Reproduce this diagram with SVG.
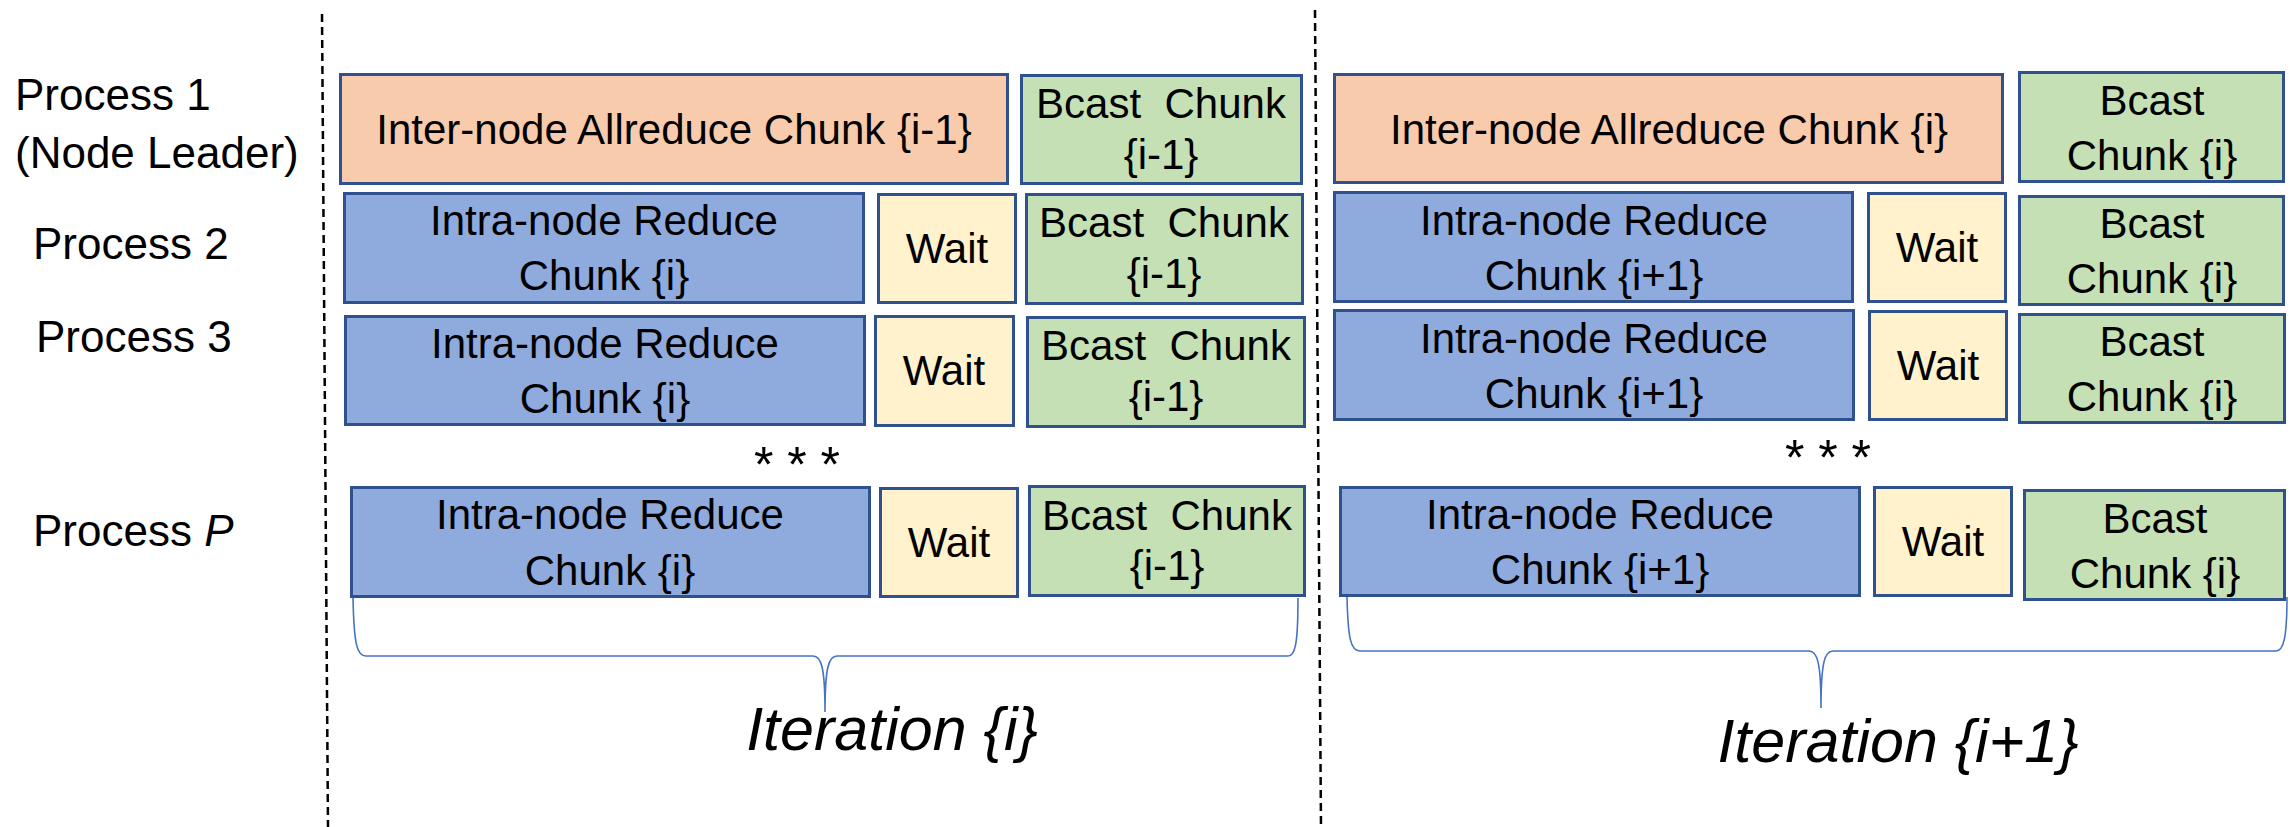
<svg xmlns="http://www.w3.org/2000/svg" width="2290" height="827" viewBox="0 0 2290 827">
<style>
  .box{stroke:#2F528F;stroke-width:3}
  .or{fill:#F8CBAD}
  .bl{fill:#8FAADC}
  .wt{fill:#FFF2CC}
  .gr{fill:#C5E0B4}
  text{font-family:"Liberation Sans",Arial,sans-serif;font-size:42px;fill:#000}
  .lbl{font-size:44px}
  .c{text-anchor:middle}
  .it{font-style:italic}
  .big{font-size:61px}
  .dots{font-size:50px}
  .sep{stroke:#000;stroke-width:2.5;stroke-dasharray:8 5;fill:none}
  .brace{stroke:#4472C4;stroke-width:1.6;fill:none}
</style>
<rect width="2290" height="827" fill="#fff"/>

<g id="labels">
  <text class="lbl" x="15" y="110">Process 1</text>
  <text class="lbl" x="15" y="168">(Node Leader)</text>
  <text class="lbl" x="33" y="259">Process 2</text>
  <text class="lbl" x="36" y="352">Process 3</text>
  <text class="lbl" x="33" y="546">Process <tspan class="it">P</tspan></text>
</g>

<g id="connectors">
  <line class="sep" x1="322" y1="14" x2="328" y2="827"/>
  <line class="sep" x1="1315" y1="10" x2="1321" y2="827"/>
  <path class="brace" d="M353,598 C354,645 357,656 366,656 L813,656 C821,656 825,666 825,712 C825,666 829,656 837,656 L1288,656 C1295,656 1298,645 1298,598"/>
  <path class="brace" d="M1347,597 C1348,640 1351,651 1360,651 L1809,651 C1817,651 1821,661 1821,708 C1821,661 1825,651 1833,651 L2276,651 C2283,651 2287,640 2287,597"/>
</g>

<g id="iter-i">
  <g id="a1-allreduce"><rect class="box or" x="340.5" y="74.5" width="667" height="109"/><text class="c" x="674" y="144">Inter-node Allreduce Chunk {i-1}</text></g>
  <g id="a1-bcast"><rect class="box gr" x="1021.5" y="75.5" width="280" height="108"/><text class="c" x="1161" y="118">Bcast&#160; Chunk</text><text class="c" x="1161" y="169">{i-1}</text></g>

  <g id="a2-reduce"><rect class="box bl" x="344.5" y="193.5" width="519" height="109"/><text class="c" x="604" y="235">Intra-node Reduce</text><text class="c" x="604" y="290">Chunk {i}</text></g>
  <g id="a2-wait"><rect class="box wt" x="878.5" y="194.5" width="137" height="108"/><text class="c" x="947" y="263">Wait</text></g>
  <g id="a2-bcast"><rect class="box gr" x="1026.5" y="194.5" width="276" height="109"/><text class="c" x="1164" y="237">Bcast&#160; Chunk</text><text class="c" x="1164" y="288">{i-1}</text></g>

  <g id="a3-reduce"><rect class="box bl" x="345.5" y="316.5" width="519" height="108"/><text class="c" x="605" y="358">Intra-node Reduce</text><text class="c" x="605" y="413">Chunk {i}</text></g>
  <g id="a3-wait"><rect class="box wt" x="875.5" y="316.5" width="138" height="109"/><text class="c" x="944" y="385">Wait</text></g>
  <g id="a3-bcast"><rect class="box gr" x="1027.5" y="317.5" width="277" height="109"/><text class="c" x="1166" y="360">Bcast&#160; Chunk</text><text class="c" x="1166" y="411">{i-1}</text></g>

  <g id="a-dots"><text class="c dots" x="797" y="482">* * *</text></g>

  <g id="ap-reduce"><rect class="box bl" x="351.5" y="487.5" width="518" height="109"/><text class="c" x="610" y="529">Intra-node Reduce</text><text class="c" x="610" y="585">Chunk {i}</text></g>
  <g id="ap-wait"><rect class="box wt" x="880.5" y="488.5" width="137" height="108"/><text class="c" x="949" y="557">Wait</text></g>
  <g id="ap-bcast"><rect class="box gr" x="1029.5" y="486.5" width="275" height="109"/><text class="c" x="1167" y="530">Bcast&#160; Chunk</text><text class="c" x="1167" y="580">{i-1}</text></g>

  <g id="a-label"><text class="c it big" x="892" y="750">Iteration {i}</text></g>
</g>

<g id="iter-i1">
  <g id="b1-allreduce"><rect class="box or" x="1334.5" y="74.5" width="668" height="108"/><text class="c" x="1669" y="144">Inter-node Allreduce Chunk {i}</text></g>
  <g id="b1-bcast"><rect class="box gr" x="2019.5" y="72.5" width="264" height="109"/><text class="c" x="2152" y="115">Bcast</text><text class="c" x="2152" y="170">Chunk {i}</text></g>

  <g id="b2-reduce"><rect class="box bl" x="1334.5" y="192.5" width="518" height="109"/><text class="c" x="1594" y="235">Intra-node Reduce</text><text class="c" x="1594" y="290">Chunk {i+1}</text></g>
  <g id="b2-wait"><rect class="box wt" x="1868.5" y="193.5" width="137" height="108"/><text class="c" x="1937" y="262">Wait</text></g>
  <g id="b2-bcast"><rect class="box gr" x="2019.5" y="196.5" width="264" height="108"/><text class="c" x="2152" y="238">Bcast</text><text class="c" x="2152" y="293">Chunk {i}</text></g>

  <g id="b3-reduce"><rect class="box bl" x="1334.5" y="310.5" width="519" height="109"/><text class="c" x="1594" y="353">Intra-node Reduce</text><text class="c" x="1594" y="408">Chunk {i+1}</text></g>
  <g id="b3-wait"><rect class="box wt" x="1869.5" y="311.5" width="137" height="108"/><text class="c" x="1938" y="380">Wait</text></g>
  <g id="b3-bcast"><rect class="box gr" x="2019.5" y="314.5" width="265" height="108"/><text class="c" x="2152" y="356">Bcast</text><text class="c" x="2152" y="411">Chunk {i}</text></g>

  <g id="b-dots"><text class="c dots" x="1828" y="475">* * *</text></g>

  <g id="bp-reduce"><rect class="box bl" x="1340.5" y="487.5" width="519" height="108"/><text class="c" x="1600" y="529">Intra-node Reduce</text><text class="c" x="1600" y="584">Chunk {i+1}</text></g>
  <g id="bp-wait"><rect class="box wt" x="1874.5" y="487.5" width="137" height="108"/><text class="c" x="1943" y="556">Wait</text></g>
  <g id="bp-bcast"><rect class="box gr" x="2024.5" y="490.5" width="260" height="109"/><text class="c" x="2155" y="533">Bcast</text><text class="c" x="2155" y="588">Chunk {i}</text></g>

  <g id="b-label"><text class="c it big" x="1898" y="762">Iteration {i+1}</text></g>
</g>
</svg>
